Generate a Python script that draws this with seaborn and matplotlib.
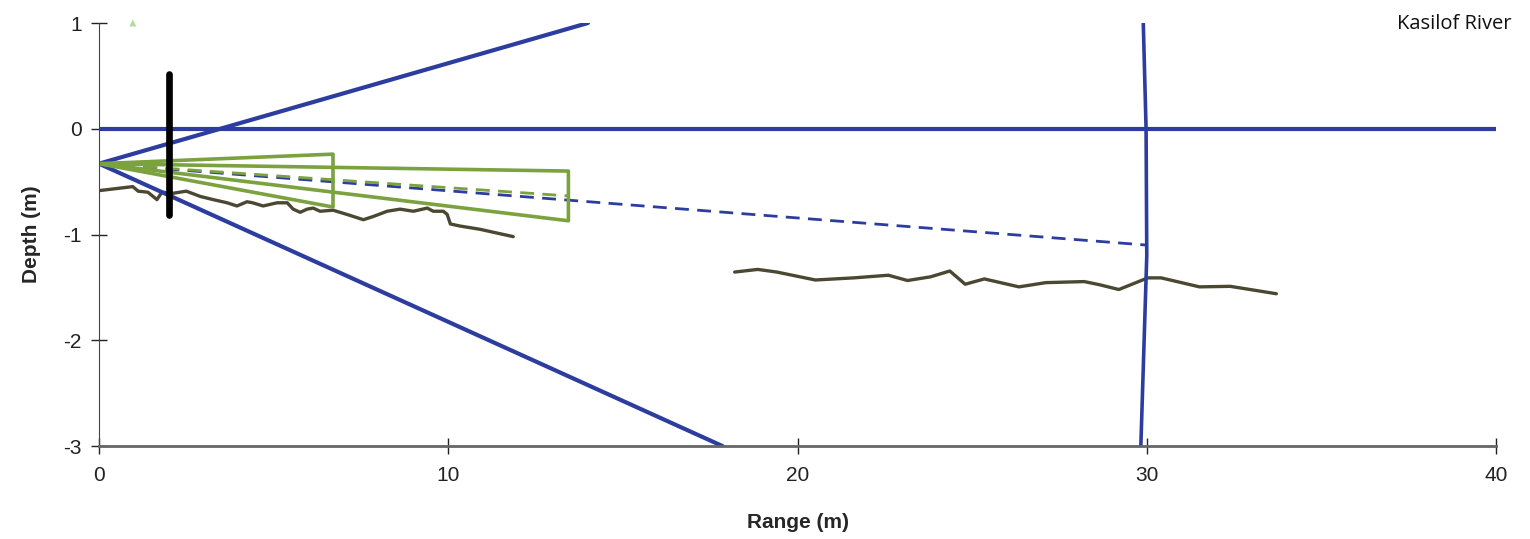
import numpy as np
import pandas as pd
import matplotlib
matplotlib.use("Agg")
import matplotlib.pyplot as plt
import seaborn as sns

# beam geometry (range m, depth m)
surface_x = [0, 40]
surface_y = [0, 0]
upper_edge_x = [0, 14.0]
upper_edge_y = [-0.33, 1.0]
lower_edge_x = [0, 17.85]
lower_edge_y = [-0.33, -3.0]
axis_dash_x = [0, 30.0]
axis_dash_y = [-0.33, -1.10]
far_line_x = [29.90, 29.98, 30.0, 29.83]
far_line_y = [1.0, 0.0, -1.2, -3.0]

# transducer pole
pole_x = [2.0, 2.0]
pole_y = [0.52, -0.82]

# green beams
beam1_x = [0, 6.7, 6.7, 0]
beam1_y = [-0.33, -0.24, -0.74, -0.33]
beam2_x = [0, 13.44, 13.44, 0]
beam2_y = [-0.33, -0.40, -0.87, -0.33]
beam_axis_x = [0, 13.44]
beam_axis_y = [-0.33, -0.635]

# bottom profiles
bottom1_x = [0.0, 0.97, 1.12, 1.4, 1.66, 1.8, 2.12, 2.5, 2.9, 3.27, 3.67, 3.95,
             4.24, 4.4, 4.7, 5.1, 5.39, 5.56, 5.76, 5.96, 6.13, 6.33, 6.7, 7.1,
             7.57, 7.85, 8.25, 8.62, 9.0, 9.4, 9.57, 9.86, 9.97, 10.06, 10.34,
             10.9, 11.86]
bottom1_y = [-0.585, -0.547, -0.59, -0.60, -0.67, -0.60, -0.61, -0.59, -0.64,
             -0.67, -0.70, -0.73, -0.69, -0.70, -0.73, -0.70, -0.70, -0.76,
             -0.79, -0.76, -0.75, -0.78, -0.77, -0.81, -0.86, -0.83, -0.78,
             -0.76, -0.78, -0.75, -0.78, -0.78, -0.81, -0.90, -0.92, -0.95,
             -1.02]
bottom2_x = [18.2, 18.86, 19.41, 20.51, 21.61, 22.60, 23.15, 23.81, 24.36,
             24.80, 25.35, 26.34, 27.11, 28.21, 28.65, 29.20, 30.03, 30.41,
             31.51, 32.39, 33.71]
bottom2_y = [-1.355, -1.33, -1.355, -1.43, -1.41, -1.385, -1.435, -1.40,
             -1.345, -1.47, -1.42, -1.495, -1.455, -1.445, -1.475, -1.52,
             -1.41, -1.41, -1.495, -1.49, -1.56]

marker_x = [0.97]
marker_y = [1.0]

blue = "#2d3d9f"
green = "#7ba23f"
brown = "#4b4832"

sns.set_style("ticks")
plt.rcParams["font.family"] = ["Liberation Sans", "DejaVu Sans"]
plt.rcParams["axes.unicode_minus"] = False

fig = plt.figure(figsize=(15.3, 5.39), dpi=100)
ax = fig.add_axes([0.0647, 0.1725, 0.9131, 0.7848])


def line(x, y, **kw):
    d = pd.DataFrame({"x": x, "y": y})
    sns.lineplot(data=d, x="x", y="y", sort=False, estimator=None, ax=ax, **kw)


line(bottom1_x, bottom1_y, color=brown, lw=2.4, solid_joinstyle="round")
line(bottom2_x, bottom2_y, color=brown, lw=2.4, solid_joinstyle="round")
line(surface_x, surface_y, color=blue, lw=3.0)
line(upper_edge_x, upper_edge_y, color=blue, lw=3.0)
line(lower_edge_x, lower_edge_y, color=blue, lw=3.0)
line(far_line_x, far_line_y, color=blue, lw=2.6)
line(axis_dash_x, axis_dash_y, color=blue, lw=2.0, linestyle=(0, (5, 3)))
line(beam_axis_x, beam_axis_y, color=green, lw=2.0, linestyle=(0, (5, 3)))
line(beam1_x, beam1_y, color=green, lw=2.6)
line(beam2_x, beam2_y, color=green, lw=2.6)
line(pole_x, pole_y, color="black", lw=4.8, solid_capstyle="round")
sns.scatterplot(x=marker_x, y=marker_y, marker="^", s=25, color="#b5d99c",
                edgecolor="none", ax=ax, clip_on=False)

ax.set_xlim(0, 40)
ax.set_ylim(-3, 1)
ax.set_xticks([0, 10, 20, 30, 40])
ax.set_yticks([-3, -2, -1, 0, 1])
ax.tick_params(direction="inout", length=11, width=1, labelsize=15,
               colors="#222222", pad=7)
ax.tick_params(axis="x", pad=9)
for s in ["top", "right"]:
    ax.spines[s].set_visible(False)
ax.spines["left"].set_color("#444444")
ax.spines["bottom"].set_color("#666666")
ax.spines["bottom"].set_linewidth(2)
ax.set_xlabel("Range (m)", fontsize=15, fontweight="bold", labelpad=20)
ax.set_ylabel("Depth (m)", fontsize=15, fontweight="bold", labelpad=16)

fig.text(0.988, 0.955, "Kasilof River", ha="right", va="center",
         fontsize=14.5, family=["Open Sans", "DejaVu Sans"], color="#111111")

fig.savefig("out.png", dpi=100)
